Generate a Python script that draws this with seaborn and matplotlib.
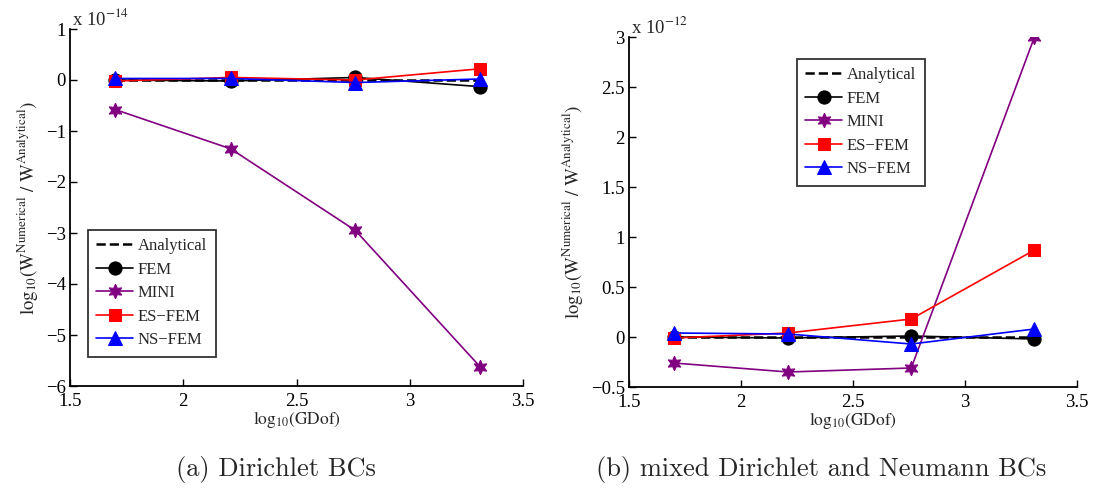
import numpy as np
import pandas as pd
import matplotlib
matplotlib.use("Agg")
import matplotlib.pyplot as plt
import seaborn as sns

# ---- data ----
x_gdof = [1.70, 2.21, 2.76, 3.31]
series = ["Analytical", "FEM", "MINI", "ES\u2212FEM", "NS\u2212FEM"]

# panel (a): values in units of 1e-14
a_analytical = [0.0, 0.0, 0.0, 0.0]
a_fem = [0.0, -0.02, 0.05, -0.13]
a_mini = [-0.58, -1.35, -2.95, -5.62]
a_esfem = [-0.02, 0.05, 0.0, 0.22]
a_nsfem = [0.03, 0.03, -0.05, 0.02]

# panel (b): values in units of 1e-12
b_analytical = [0.0, 0.0, 0.0, 0.0]
b_fem = [0.0, -0.01, 0.01, -0.02]
b_mini = [-0.26, -0.35, -0.31, 3.0]
b_esfem = [-0.01, 0.04, 0.18, 0.87]
b_nsfem = [0.04, 0.03, -0.07, 0.08]

a_yticks = [-6, -5, -4, -3, -2, -1, 0, 1]
b_yticks = [-0.5, 0, 0.5, 1, 1.5, 2, 2.5, 3]
xticks = [1.5, 2, 2.5, 3, 3.5]

sns.set_theme(style="ticks")
plt.rcParams["font.family"] = ["Liberation Serif", "DejaVu Serif"]
plt.rcParams["mathtext.fontset"] = "stix"
plt.rcParams["axes.unicode_minus"] = True

styles = {
    "Analytical": dict(color="black", linestyle="--", marker=None, lw=1.8),
    "FEM": dict(color="black", linestyle="-", marker="o", lw=1.2),
    "MINI": dict(color="#800080", linestyle="-", marker=(6, 1, 0), lw=1.2),
    "ES\u2212FEM": dict(color="red", linestyle="-", marker="s", lw=1.2),
    "NS\u2212FEM": dict(color="blue", linestyle="-", marker="^", lw=1.2),
}
msizes = {"FEM": 9.5, "MINI": 10.5, "ES\u2212FEM": 8.5, "NS\u2212FEM": 9.5}

fig = plt.figure(figsize=(11.09, 4.9), dpi=100)
W, H = 1109, 490
axA = fig.add_axes([70 / W, 1 - 386 / H, (523 - 70) / W, (386 - 29) / H])
axB = fig.add_axes([629 / W, 1 - 387 / H, (1077 - 629) / W, (387 - 37) / H])

def draw(ax, vals, ylim, yticks, exp, legend_loc):
    for name, v in zip(series, vals):
        st = styles[name]
        kw = dict(color=st["color"], linestyle=st["linestyle"], linewidth=st["lw"])
        if st["marker"] is not None:
            kw.update(marker=st["marker"], markersize=msizes[name],
                      markerfacecolor=st["color"], markeredgecolor=st["color"])
        sns.lineplot(x=x_gdof, y=v, ax=ax, label=name, **kw)
    ax.set_xlim(1.5, 3.5)
    ax.set_ylim(*ylim)
    ax.set_xticks(xticks)
    ax.set_xticklabels([f"{t:g}" for t in xticks])
    ax.set_yticks(yticks)
    ax.set_yticklabels([f"{t:g}".replace("-", "\u2212") for t in yticks])
    for s in ["top", "right"]:
        ax.spines[s].set_visible(False)
    for s in ["left", "bottom"]:
        ax.spines[s].set_linewidth(1.3)
        ax.spines[s].set_color("black")
    ax.tick_params(direction="in", length=5, width=1.0, labelsize=13.5, colors="black")
    ax.tick_params(axis="x", pad=5)
    ax.tick_params(axis="y", pad=3)
    ax.set_xlabel(r"$\mathrm{log}_{10}\mathrm{(GDof)}$", fontsize=12.5, labelpad=-1)
    ax.set_ylabel(r"$\mathrm{log}_{10}\mathrm{(W}^{\mathrm{Numerical}}\mathrm{\ /\ W}^{\mathrm{Analytical}}\mathrm{)}$",
                  fontsize=13.5, labelpad=4)
    ax.text(0.005, 1.0, r"x 10$^{%d}$" % exp, transform=ax.transAxes,
            ha="left", va="bottom", fontsize=13.5)
    leg = ax.legend(loc="upper left", bbox_to_anchor=legend_loc, frameon=True,
                    fancybox=False, edgecolor="black", fontsize=12,
                    handlelength=2.2, handletextpad=0.3, borderpad=0.5,
                    labelspacing=0.45, borderaxespad=0)
    leg.get_frame().set_linewidth(1.3)

draw(axA, [a_analytical, a_fem, a_mini, a_esfem, a_nsfem], (-6, 1), a_yticks, -14,
     ((88 - 70) / (523 - 70), 1 - (230 - 29) / (386 - 29)))
draw(axB, [b_analytical, b_fem, b_mini, b_esfem, b_nsfem], (-0.5, 3), b_yticks, -12,
     ((797 - 629) / (1077 - 629), 1 - (59 - 37) / (387 - 37)))

fig.text(276 / W, 1 - 469 / H, "(a) Dirichlet BCs", ha="center", va="center",
         fontsize=19, family=["cmr10", "DejaVu Serif"])
fig.text(821 / W, 1 - 469 / H, "(b) mixed Dirichlet and Neumann BCs", ha="center",
         va="center", fontsize=19, family=["cmr10", "DejaVu Serif"])

fig.savefig("out.png", dpi=100)
